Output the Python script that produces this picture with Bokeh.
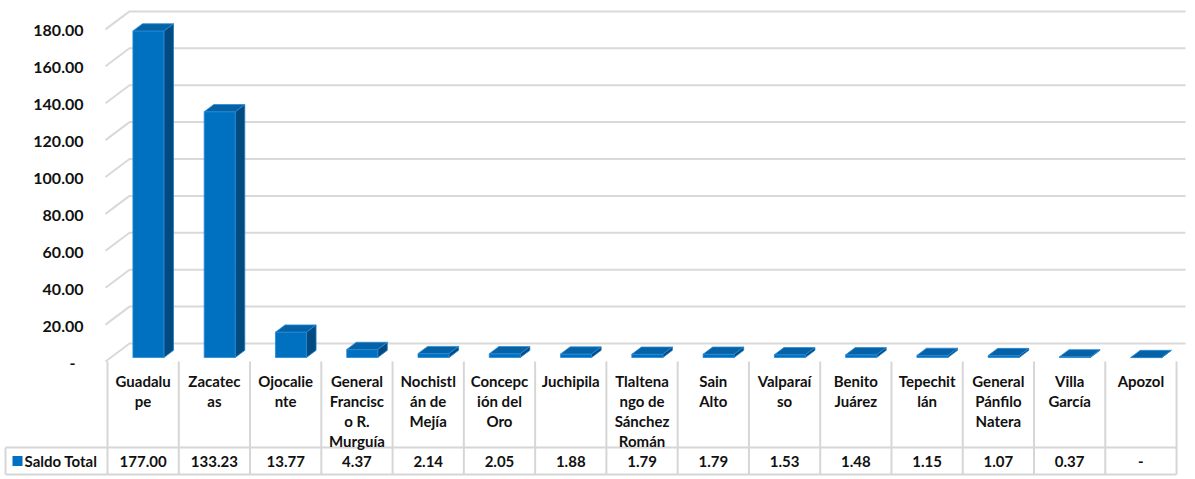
import numpy as np
from bokeh.plotting import figure
from bokeh.models import ColumnDataSource
from bokeh.core.properties import value
from bokeh.embed import file_html
from bokeh.resources import INLINE

# ---------------- data ----------------
categories = ["Guadalupe", "Zacatecas", "Ojocaliente", "General Francisco R. Murguía",
              "Nochistlán de Mejía", "Concepción del Oro", "Juchipila",
              "Tlaltenango de Sánchez Román", "Sain Alto", "Valparaíso", "Benito Juárez",
              "Tepechitlán", "General Pánfilo Natera", "Villa García", "Apozol"]
category_labels = ["Guadalu\npe", "Zacatec\nas", "Ojocalie\nnte", "General\nFrancisc\no R.\nMurguía",
                   "Nochistl\nán de\nMejía", "Concepc\nión del\nOro", "Juchipila",
                   "Tlaltena\nngo de\nSánchez\nRomán", "Sain\nAlto", "Valparaí\nso", "Benito\nJuárez",
                   "Tepechit\nlán", "General\nPánfilo\nNatera", "Villa\nGarcía", "Apozol"]
saldo_total = [177.00, 133.23, 13.77, 4.37, 2.14, 2.05, 1.88, 1.79, 1.79, 1.53, 1.48, 1.15, 1.07, 0.37, 0.0]
value_labels = ["177.00", "133.23", "13.77", "4.37", "2.14", "2.05", "1.88", "1.79", "1.79",
                "1.53", "1.48", "1.15", "1.07", "0.37", "-"]
series_name = "Saldo Total"
y_ticks = [0, 20, 40, 60, 80, 100, 120, 140, 160, 180]
y_tick_labels = ["-", "20.00", "40.00", "60.00", "80.00", "100.00", "120.00", "140.00", "160.00", "180.00"]

# ---------------- layout ----------------
W, H = 1190, 477
COL_PX = 71.27          # pixels per category column
UNIT_PX = 1.845         # pixels per value unit
LEFT_PAD = 107          # px from frame left to first table column
ZERO_PX = 361           # px from frame top to value 0

x_start = -LEFT_PAD / COL_PX
x_end = (W - LEFT_PAD) / COL_PX
y_end = ZERO_PX / UNIT_PX
y_start = -(H - ZERO_PX) / UNIT_PX


def px_x(px):
    """horizontal pixel offset from first table column -> x units"""
    return px / COL_PX


def px_y(px):
    """vertical pixel offset below value 0 -> y units"""
    return -px / UNIT_PX


DX = 24 / COL_PX        # depth offset (x)
DY = 18 / UNIT_PX       # depth offset (y)
WALL_X = px_x(-2)
WALL_XR = px_x(1078)

FONT = value("Lato")
GRID = "#D9D9D9"
TABLE_LINE = "#D6D6D6"
TXT = "#111111"

p = figure(width=W, height=H, x_range=(x_start, x_end), y_range=(y_start, y_end),
           output_backend="svg", toolbar_location=None, min_border=0,
           x_axis_type=None, y_axis_type=None)
p.grid.visible = False
p.outline_line_color = None
p.background_fill_color = "white"
p.border_fill_color = "white"

# walls / gridlines
gx, gy = [], []
for t in y_ticks:
    gx.append([WALL_X, WALL_X + DX, WALL_XR])
    gy.append([t, t + DY, t + DY])
p.multi_line(gx, gy, line_color=GRID, line_width=2)

# y tick labels
tick_x = [px_x(-32) if lab == "-" else px_x(-24) for lab in y_tick_labels]
tick_y = [t + px_y(1.5) for t in y_ticks]
p.text(x=tick_x, y=tick_y, text=y_tick_labels, text_align="right", text_baseline="middle",
       text_font=FONT, text_font_style="bold", text_font_size="16px", text_color=TXT)

# 3D bars
D1, D2 = 0.22, 0.62
BW = 31 / COL_PX
vals = np.array(saldo_total)
idx = np.arange(len(vals))
L = idx + 0.5 - BW / 2 + D1 * DX
R = L + BW
b1 = np.full(len(vals), D1 * DY)
t1 = vals + D1 * DY
ddx = (D2 - D1) * DX
ddy = (D2 - D1) * DY

front_xs = [[l, r, r, l] for l, r in zip(L, R)]
front_ys = [[b, b, t, t] for b, t in zip(b1, t1)]
side_xs = [[r, r + ddx, r + ddx, r] for r in R]
side_ys = [[b, b + ddy, t + ddy, t] for b, t in zip(b1, t1)]
top_xs = [[l, r, r + ddx, l + ddx] for l, r in zip(L, R)]
top_ys = [[t, t, t + ddy, t + ddy] for t in t1]

p.patches(side_xs, side_ys, fill_color="#034A80", line_color="#1F7DC8", line_width=0.8)
p.patches(front_xs, front_ys, fill_color="#0070C0", line_color="#2A8AD6", line_width=0.8)
p.patches(top_xs, top_ys, fill_color="#0562A6", line_color="#2A8AD6", line_width=0.8)

# data table
TM = px_y(447 - ZERO_PX)
TB = px_y(474 - ZERO_PX)
XL = px_x(5 - LEFT_PAD)
n = len(categories)
vx = [[i, i] for i in range(n + 1)] + [[XL, XL]]
vy = [[0, TB] for _ in range(n + 1)] + [[TM, TB]]
vx += [[XL, n], [XL, n]]
vy += [[TM, TM], [TB, TB]]
p.multi_line(vx, vy, line_color=TABLE_LINE, line_width=2)

src = ColumnDataSource(dict(x=idx + 0.5, cat=category_labels, val=value_labels))
p.text(x="x", y=px_y(10), text="cat", source=src, text_align="center", text_baseline="top",
       text_font=FONT, text_font_style="bold", text_font_size="15px", text_line_height=1.12,
       text_color=TXT)
p.text(x="x", y=(TM + TB) / 2, text="val", source=src, text_align="center", text_baseline="middle",
       text_font=FONT, text_font_style="bold", text_font_size="15px", text_color=TXT)

# legend key in table
p.rect(x=[px_x(17 - LEFT_PAD)], y=[(TM + TB) / 2], width=10, height=10,
       width_units="screen", height_units="screen", fill_color="#0070C0", line_color=None)
p.text(x=[px_x(24 - LEFT_PAD)], y=[(TM + TB) / 2], text=[series_name], text_align="left",
       text_baseline="middle", text_font=FONT, text_font_style="bold", text_font_size="15px",
       text_color=TXT)

open("out.html", "w").write(file_html(p, INLINE))
